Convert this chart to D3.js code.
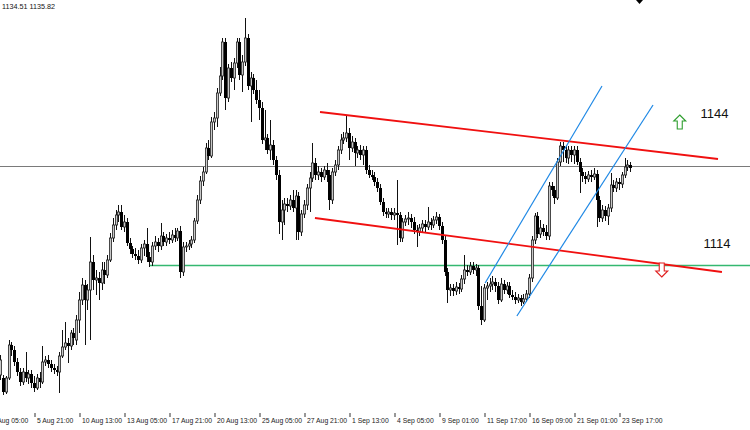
<!DOCTYPE html>
<html>
<head>
<meta charset="utf-8">
<script src="https://cdn.jsdelivr.net/npm/d3@7/dist/d3.min.js"></script>
<style>
html,body{margin:0;padding:0;background:#fff;}
svg{display:block;}
</style>
</head>
<body>
<svg id="chart" width="750" height="430"></svg>
<script>
// ---- DATA (XAUUSD H4) ----
// candles: [open, high, low, close]
const candles = [
[1082.25,1087.25,1081,1086],[1081.5,1082.25,1077.25,1078],[1078,1082,1077.5,1081.5],[1081.5,1091,1081,1089.75],
[1089.75,1090.5,1087,1088.5],[1088.5,1089.5,1084.5,1085.5],[1085.5,1086.5,1082,1083],[1083,1084,1079.5,1080.5],
[1080.5,1084,1079.75,1083],[1083,1088,1080.5,1081.5],[1081.5,1083.5,1080,1082.5],[1082.5,1083.5,1079,1080.25],
[1080.25,1082,1078,1079],[1079,1082.5,1078.5,1081.5],[1081.5,1083,1079,1080.5],[1080.5,1089.5,1080,1085.5],
[1085.5,1087,1084.5,1086],[1086,1087.25,1084,1085],[1085,1086,1083,1084],[1084,1085,1082.5,1083.5],
[1083.5,1084.5,1082,1083],[1083,1088,1077.75,1087],[1087,1093.5,1086.5,1089.25],[1089.25,1095.5,1088.5,1090.25],
[1090.25,1091.5,1085.25,1089.5],[1089.5,1093.5,1088.5,1092.75],[1092.75,1094,1089.75,1091.5],[1091,1097.25,1089.75,1096],
[1096,1103,1092.75,1101],[1101,1106.5,1099.75,1104.75],[1104.75,1106,1089.75,1101],[1101,1105,1098.5,1103.5],
[1103.5,1116.75,1091,1110.5],[1110.5,1112.25,1103.5,1106],[1106,1108.5,1102.25,1106.5],[1106.5,1108,1101,1105.25],
[1105.25,1110.5,1103.5,1108.5],[1108.5,1110.5,1105,1107.25],[1107.25,1112.25,1106.5,1111],[1111,1117.75,1110.5,1116.5],
[1116.5,1121.5,1115.5,1119.75],[1119.75,1123.5,1118.5,1122.25],[1122.25,1124.75,1120.5,1123],[1123,1124.75,1118.5,1119.25],
[1119.25,1122.25,1118,1120.5],[1120.5,1121.5,1114.5,1115.25],[1115.25,1116.5,1112.5,1113.75],[1113.75,1114.5,1111.5,1112.5],
[1112.5,1114,1111,1112],[1112,1113.5,1110,1111],[1111,1115,1110.25,1114],[1114,1116,1112,1115],
[1115,1119,1110.5,1111.75],[1111.75,1113,1109.25,1110.5],[1110.5,1115.5,1109.5,1114.5],[1114.5,1117,1113.5,1115.5],
[1115.5,1116.5,1113,1114.5],[1114.5,1120.25,1113.5,1117],[1117,1118,1114.5,1115.5],[1115.5,1117.5,1114.5,1116.5],
[1116.5,1118,1115,1116],[1116,1118.5,1115.25,1117.25],[1117.25,1119,1115.5,1116.5],[1116.5,1119,1115.75,1118.25],
[1118.25,1119.5,1106.5,1108],[1108,1115.5,1107,1114.25],[1114.25,1115.5,1113,1114.5],[1114.5,1116,1113.5,1115],
[1115,1117,1114,1116],[1116,1121.5,1115.25,1120.75],[1120.75,1127.25,1120,1126],[1126,1132,1125,1130.75],
[1130.75,1134.25,1129.5,1133],[1133,1140.25,1132.5,1139],[1139,1141,1136,1137],[1137,1146.75,1136.5,1145.5],
[1145.5,1148,1143.5,1146.5],[1146.5,1154,1144.25,1152.75],[1152.75,1159.25,1152,1157],[1157,1166.5,1156,1165.5],
[1165.5,1166.5,1148.5,1151.5],[1151.5,1160,1150.5,1159],[1159,1160.5,1155.5,1156.5],[1156.5,1161.5,1153.5,1160.25],
[1160.25,1166.5,1159,1165.5],[1165.5,1166.5,1156,1157.25],[1157.25,1162.25,1153,1160.5],[1160.5,1171.5,1159.5,1166.5],
[1166.5,1167.5,1153.5,1154.5],[1154.5,1158,1145.5,1156.5],[1156.5,1157.5,1152.5,1153.5],[1153.5,1156,1150,1151],
[1151,1153.5,1146,1149],[1149,1150.5,1140,1141],[1141,1148.5,1138.5,1141.5],[1141.5,1142.5,1137.5,1138.5],
[1138.5,1146,1136,1139.75],[1139.75,1141,1134.75,1136],[1136,1137,1131,1132.25],[1132.25,1133.5,1117.5,1120.5],
[1120.5,1126,1116,1123.5],[1123.5,1126.5,1119.75,1125],[1125,1126.5,1123,1124.5],[1124.5,1127.25,1123.5,1126],
[1126,1128.5,1123,1124],[1124,1128.5,1116,1127],[1127,1128,1116,1118],[1118,1123.5,1117,1122.5],
[1122.5,1126,1121.5,1124.75],[1124.75,1130,1123.5,1129],[1129,1133,1123,1131.5],[1131.5,1140.25,1130.5,1135.25],
[1135.25,1136.5,1131,1132.25],[1132.25,1134.5,1131,1133],[1133,1134,1130.5,1131.75],[1131.75,1134.5,1131,1133.5],
[1133.5,1135.25,1130.5,1132.25],[1132.25,1133.5,1123.5,1126],[1126,1134,1125,1133],[1133,1136,1132,1134.75],
[1134.75,1139.5,1133.5,1138.5],[1138.5,1142.5,1137.5,1141],[1141,1143,1140,1141.5],[1141.5,1147.25,1140.5,1142.75],
[1142.75,1144,1136,1139],[1139,1142,1138,1140.5],[1140.5,1141.5,1134.5,1137.75],[1137.75,1139.5,1136.5,1138.5],
[1138.5,1139.75,1136,1137.25],[1137.25,1139.5,1134.75,1138.5],[1138.5,1139.5,1132.5,1133.5],[1133.5,1134.75,1131.5,1132.25],
[1132.25,1133.5,1131,1131.75],[1131.75,1133,1129.5,1130.5],[1130.5,1131.5,1128,1129],[1129,1130,1124.75,1125.5],
[1125.5,1126.5,1122,1123],[1123,1124,1121.5,1122.5],[1122.5,1124,1121.5,1123],[1123,1124,1121,1122.25],
[1122.25,1124,1121,1122.75],[1122.75,1131,1114.75,1122.25],[1122.25,1123,1115.5,1116.5],[1116.5,1121.5,1115.5,1120.5],
[1120.5,1122.25,1119.5,1121.25],[1121.25,1123,1119.75,1121.5],[1121.5,1122.5,1119,1120.5],[1120.5,1121.75,1117.5,1118.5],
[1118.5,1119.75,1114.25,1118],[1118,1120,1117,1119],[1119,1121,1118,1120],[1120,1121,1118,1119.25],
[1119.25,1124.25,1118.5,1120.5],[1120.5,1121.5,1118.5,1119.75],[1119.75,1122,1119,1121],[1121,1123,1120,1121.75],
[1121.75,1122.5,1118.5,1119.5],[1119.5,1120.5,1115,1116],[1116,1117,1107,1108],[1108,1109,1100.25,1103.5],
[1103.5,1105,1102,1104],[1104,1105,1102,1103.25],[1103.25,1105.5,1102.25,1104.25],[1104.25,1105.25,1102.5,1103.75],
[1103.75,1107.25,1103,1106.25],[1106.25,1112.25,1105,1108.5],[1108.5,1109.75,1107,1108],[1108,1110.5,1107.25,1109.5],
[1109.5,1110.5,1107.5,1108.5],[1108.5,1110,1107,1109],[1109,1109.75,1098.5,1099.5],[1099.5,1104.5,1094.75,1096],
[1096,1105,1095.5,1104],[1104,1105.5,1101,1104.5],[1104.5,1106.5,1103,1105],[1105,1107,1103.5,1105.5],
[1105.5,1106.5,1103,1104.5],[1104.5,1105.5,1100,1101],[1101,1106.5,1100.5,1105],[1105,1106,1102.5,1103.5],
[1103.5,1105.5,1102.5,1104.5],[1104.5,1105.5,1101.5,1102.25],[1102.25,1103.5,1101,1101.75],[1101.75,1103,1100,1101],
[1101,1102.5,1100.25,1101.5],[1101.5,1102.25,1099.5,1100.5],[1100.5,1102.5,1100,1101.25],[1101.25,1103.5,1100.5,1102.5],
[1102.5,1107.5,1101.5,1106.5],[1106.5,1117,1105.5,1116],[1116,1122.75,1115,1122],[1122,1123,1116.5,1117.5],
[1117.5,1121,1116.5,1119],[1119,1120,1117,1118],[1118,1119.75,1116,1117],[1117,1130.5,1116,1129.5],
[1129.5,1130.5,1127,1128.5],[1128.5,1129.5,1125,1126.5],[1126.5,1136.5,1126,1135.5],[1135.5,1140.5,1134.5,1139.5],
[1139.5,1140.5,1135.5,1138.5],[1138.5,1139.75,1135.25,1136.5],[1136.5,1139.5,1135,1138.5],[1138.5,1139.5,1135.5,1137.25],
[1137.25,1139.5,1135,1138.5],[1138.5,1139.5,1134.75,1135.5],[1135.5,1136.5,1127.75,1133],[1133,1134,1130.5,1132],
[1132,1133,1130,1131.25],[1131.25,1133.25,1130.5,1132.25],[1132.25,1133.5,1130.5,1131.75],[1131.75,1134,1131,1132.5],
[1132.5,1133.5,1119.25,1126],[1126,1127,1120.5,1121.5],[1121.5,1124.75,1120.5,1123.5],[1123.5,1124.5,1120.75,1122],
[1122,1125,1119.75,1124],[1124,1132.75,1123,1129.75],[1129.75,1131,1128,1129],[1129,1131.5,1128,1130.5],
[1130.5,1131.5,1128.5,1130],[1130,1133,1129,1132.25],[1132.25,1136.5,1131.5,1134.25],[1134.25,1136,1133.25,1134.75],
[1134.75,1135.5,1133,1134]
];
// time-axis labels and the bar index they sit on
const tickBars   = [-4, 12, 28, 44, 60, 76, 92, 108, 124, 140, 156, 172, 188, 204, 220];
const tickLabels = ["4 Aug 05:00","5 Aug 21:00","10 Aug 13:00","13 Aug 05:00","17 Aug 21:00","20 Aug 13:00",
  "25 Aug 05:00","27 Aug 21:00","1 Sep 13:00","4 Sep 05:00","9 Sep 01:00","11 Sep 17:00","16 Sep 09:00",
  "21 Sep 01:00","23 Sep 17:00"];
// drawn objects: [bar1, price1, bar2, price2]
const redLines  = [[113.7,1148,255.2,1136.25],[111.9,1121.5,256.6,1108]];
const blueLines = [[172.4,1105.25,213.96,1154.5],[183.7,1097,232.1,1149.75]];
const supportLevel = {bar:53.2, price:1109.75};
const bidPrice = 1134.5;
const levelLabels = [{text:"1144", bar:249.0, price:1146.5},{text:"1114", bar:250.0, price:1114.0}];
const arrowUp   = {bar:241.6, price:1145.5};
const arrowDown = {bar:235.2, price:1108.5};
const headerText = "1134.51 1135.82";

// ---- SCALES ----
const svg = d3.select("#chart");
const W = 750, H = 430;
const x = d3.scaleLinear().domain([0, 224]).range([0.25, 630.25]);
const y = d3.scaleLinear().domain([1070, 1175]).range([424, 4]);
const FONT = "Liberation Sans, Arial, sans-serif";

// header text
svg.append("text").attr("x", 2).attr("y", 8.5)
  .attr("font-family", FONT).attr("font-size", 7.2)
  .attr("fill", "#111").text(headerText);

// grey bid line
svg.append("line").attr("x1", 0).attr("x2", W)
  .attr("y1", Math.round(y(bidPrice)) + 0.5).attr("y2", Math.round(y(bidPrice)) + 0.5)
  .attr("stroke", "#7a7a7a").attr("stroke-width", 1);

// green support line
svg.append("line").attr("x1", x(supportLevel.bar)).attr("x2", W)
  .attr("y1", Math.round(y(supportLevel.price)) + 0.5).attr("y2", Math.round(y(supportLevel.price)) + 0.5)
  .attr("stroke", "#34b870").attr("stroke-width", 1.4);

// candles
const g = svg.append("g");
candles.forEach((d, i) => {
  const [o, h, l, c] = d;
  const cx = Math.round(x(i)) + 0.5;
  g.append("line").attr("x1", cx).attr("x2", cx).attr("y1", y(h)).attr("y2", y(l))
    .attr("stroke", "#111").attr("stroke-width", 1);
  const top = y(Math.max(o, c)), bot = y(Math.min(o, c));
  const hgt = Math.max(1, bot - top);
  if (c >= o) {
    g.append("rect").attr("x", cx - 1.1).attr("y", top).attr("width", 2.2).attr("height", hgt)
      .attr("fill", "#c8c8c8").attr("stroke", "#222").attr("stroke-width", 0.8);
  } else {
    g.append("rect").attr("x", cx - 1.5).attr("y", top).attr("width", 3).attr("height", hgt)
      .attr("fill", "#000");
  }
});

// red channel
redLines.forEach(d => {
  svg.append("line").attr("x1", x(d[0])).attr("y1", y(d[1])).attr("x2", x(d[2])).attr("y2", y(d[3]))
    .attr("stroke", "#f01010").attr("stroke-width", 1.8);
});
// blue channel
blueLines.forEach(d => {
  svg.append("line").attr("x1", x(d[0])).attr("y1", y(d[1])).attr("x2", x(d[2])).attr("y2", y(d[3]))
    .attr("stroke", "#1e88e5").attr("stroke-width", 1.2);
});

// level labels
levelLabels.forEach(d => {
  svg.append("text").attr("x", x(d.bar)).attr("y", y(d.price))
    .attr("font-family", FONT).attr("font-size", 13)
    .attr("fill", "#111").text(d.text);
});

// hollow arrows
function arrow(cx, cy, up, color) {
  const s = up ? 1 : -1;
  const pts = [[0, -7*s], [6, -1*s], [2.5, -1*s], [2.5, 7*s], [-2.5, 7*s], [-2.5, -1*s], [-6, -1*s]];
  svg.append("path")
    .attr("d", "M" + pts.map(p => (cx + p[0]) + "," + (cy + p[1])).join("L") + "Z")
    .attr("fill", "#fff").attr("stroke", color).attr("stroke-width", 1.1);
}
arrow(x(arrowUp.bar), y(arrowUp.price), true, "#2e9e2e");
arrow(x(arrowDown.bar), y(arrowDown.price), false, "#e02020");

// small marker top-right
svg.append("path").attr("d", "M636,0L643,0L639.5,4Z").attr("fill", "#000");

// time axis
const axisY = 413;
const axis = d3.axisBottom(x).tickValues(tickBars).tickSize(4).tickFormat((d, i) => tickLabels[i]);
const ag = svg.append("g").attr("transform", `translate(0,${axisY})`).call(axis);
ag.select(".domain").remove();
ag.selectAll(".tick line").attr("stroke", "#333").attr("transform", "translate(0.5,0)");
ag.selectAll(".tick text").attr("text-anchor", "start").attr("x", 2.5).attr("y", 5)
  .attr("dy", "0.71em").attr("font-family", FONT)
  .attr("font-size", 6.8).attr("fill", "#222");
</script>
</body>
</html>
